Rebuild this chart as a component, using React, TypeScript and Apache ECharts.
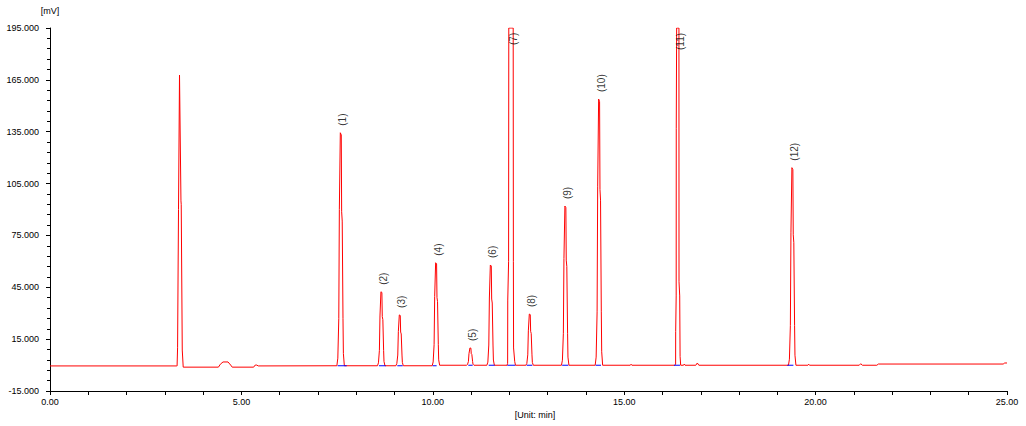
import React, { useEffect, useRef } from "react";
import * as echarts from "echarts";

// ---- chromatogram trace (time in min, signal in mV) ----
const startBase: [number, number][] = [[0, -0.5], [3.3, -0.5]];
const solventPeak: [number, number][] = [
  [3.32, -0.5], [3.333, 10], [3.357, 90], [3.383, 167.8], [3.399, 167.8],
  [3.421, 95], [3.428, 93], [3.455, 8.7], [3.48, -1.2],
];
const earlyDrift: [number, number][] = [
  [4.4, -1.2], [4.45, 0.5], [4.52, 1.8], [4.65, 1.8], [4.72, 0], [4.76, -1.2],
  [5.32, -1.2], [5.36, 0], [5.4, 0], [5.44, -0.5],
];
const peak1: [number, number][] = [
  [7.494, -0.4], [7.519, 4.0], [7.544, 26.9], [7.559, 90.0], [7.584, 134.4], [7.609, 133.1],
  [7.619, 88.7], [7.634, 83.3], [7.654, 26.9], [7.664, 6.7], [7.689, -0.4],
];
const peak2: [number, number][] = [
  [8.555, -0.4], [8.58, 1.3], [8.605, 8.5], [8.62, 28.4], [8.645, 42.4], [8.67, 42.0],
  [8.68, 28.0], [8.695, 26.3], [8.715, 8.5], [8.725, 2.1], [8.75, -0.4],
];
const peak3: [number, number][] = [
  [9.035, -0.4], [9.06, 0.9], [9.085, 5.8], [9.1, 19.4], [9.125, 29.0], [9.15, 28.7],
  [9.16, 19.1], [9.175, 18.0], [9.195, 5.8], [9.205, 1.5], [9.23, -0.4],
];
const peak4: [number, number][] = [
  [9.984, -0.4], [10.009, 1.8], [10.034, 11.8], [10.049, 39.7], [10.074, 59.2], [10.099, 58.6],
  [10.109, 39.1], [10.124, 36.7], [10.144, 11.8], [10.154, 3.0], [10.179, -0.1],
];
const peak5: [number, number][] = [
  [10.88, -0.1], [10.905, 0.3], [10.93, 2.0], [10.945, 6.6], [10.97, 9.9], [10.995, 9.8],
  [11.005, 6.5], [11.02, 6.1], [11.04, 2.0], [11.05, 0.5], [11.075, -0.1],
];
const peak6: [number, number][] = [
  [11.413, -0.1], [11.438, 1.7], [11.463, 11.6], [11.478, 38.8], [11.503, 57.9], [11.528, 57.3],
  [11.538, 38.2], [11.553, 35.9], [11.573, 11.6], [11.583, 2.9], [11.608, -0.1],
];
const peak7: [number, number][] = [
  [11.94, -0.1], [11.955, 1], [11.958, 37.6], [11.98, 60], [11.985, 195], [12.1, 195],
  [12.105, 60], [12.11, 9.9], [12.14, 2], [12.16, -0.1],
];
const peak8: [number, number][] = [
  [12.431, -0.1], [12.456, 0.9], [12.481, 5.9], [12.496, 19.8], [12.521, 29.5], [12.546, 29.2],
  [12.556, 19.5], [12.571, 18.3], [12.591, 5.9], [12.601, 1.5], [12.626, -0.1],
];
const peak9: [number, number][] = [
  [13.361, -0.1], [13.386, 2.8], [13.411, 18.4], [13.426, 61.6], [13.451, 92.0], [13.476, 91.1],
  [13.486, 60.7], [13.501, 57.0], [13.521, 18.4], [13.531, 4.6], [13.556, -0.1],
];
const peak10: [number, number][] = [
  [14.242, -0.1], [14.267, 4.6], [14.292, 30.8], [14.307, 103.1], [14.332, 153.9], [14.357, 152.4],
  [14.367, 101.6], [14.382, 95.4], [14.402, 30.8], [14.412, 7.7], [14.437, -0.1],
];
const midBumps: [number, number][] = [[15.16, -0.1], [15.18, 0.5], [15.2, -0.1]];
const peak11: [number, number][] = [
  [16.32, -0.1], [16.343, 0.5], [16.345, 19.3], [16.358, 40], [16.36, 137], [16.37, 195],
  [16.43, 195], [16.432, 48.2], [16.45, 40], [16.46, 5], [16.475, -0.1],
];
const lateBumps: [number, number][] = [
  [16.55, -0.1], [16.57, 0.6], [16.59, -0.1], [16.87, -0.1], [16.91, 1.2], [16.95, -0.1],
];
const peak12: [number, number][] = [
  [19.291, -0.1], [19.316, 3.4], [19.341, 22.8], [19.356, 76.5], [19.381, 114.2], [19.406, 113.1],
  [19.416, 75.4], [19.431, 70.8], [19.451, 22.8], [19.461, 5.7], [19.486, -0.1],
];
const tail: [number, number][] = [
  [19.8, -0.1], [19.82, 0.5], [19.84, -0.1], [21.14, -0.1], [21.18, 0.8], [21.22, -0.1],
  [21.6, -0.1], [21.64, 0.6], [24.9, 0.6], [24.94, 1.2], [25, 1.2],
];

// ---- integration baselines (blue) ----
const blueStarts = [7.515, 8.594, 9.073, 9.997, 10.928, 11.46, 11.947, 12.453, 13.38, 14.255, 16.3, 19.26];
const blueEnds = [7.75, 8.77, 9.213, 10.1, 11.04, 11.617, 12.155, 12.6, 13.54, 14.394, 16.457, 19.42];
const blueLevels = [-0.4, -0.4, -0.4, -0.4, -0.1, -0.1, -0.1, -0.1, -0.1, -0.1, -0.1, -0.1];

// ---- peak labels ----
const peakNames = ["(1)", "(2)", "(3)", "(4)", "(5)", "(6)", "(7)", "(8)", "(9)", "(10)", "(11)", "(12)"];
const peakTimes = [7.594, 8.655, 9.135, 10.084, 10.98, 11.513, 12.043, 12.531, 13.461, 14.342, 16.413, 19.391];
const peakHeights = [134.4, 42.4, 29.0, 59.2, 9.9, 57.9, 195, 29.5, 92.0, 153.9, 195, 114.2];

// ---- axes ----
const xMin = 0, xMax = 25, xStep = 5;
const yMin = -15, yMax = 195, yStep = 30;

export default function App() {
  const ref = useRef<HTMLDivElement>(null);
  useEffect(() => {
    document.body.style.margin = "0";
    if (!ref.current) return;
    const chart = echarts.init(ref.current, null, { renderer: "svg" });
    const trace = [
      ...startBase, ...solventPeak, ...earlyDrift, ...peak1, ...peak2, ...peak3, ...peak4,
      ...peak5, ...peak6, ...peak7, ...peak8, ...peak9, ...peak10, ...midBumps, ...peak11,
      ...lateBumps, ...peak12, ...tail,
    ];
    const blue: any[] = [];
    blueStarts.forEach((s, i) => {
      blue.push([s, blueLevels[i]]);
      blue.push([blueEnds[i], blueLevels[i]]);
      blue.push([blueEnds[i] + 0.001, null]);
    });
    const insideTop: Record<string, number> = { "(7)": -17, "(11)": -22 };
    const labels = peakNames.map((n, i) => ({
      name: n,
      value: [peakTimes[i], peakHeights[i]],
      label: insideTop[n] !== undefined ? { distance: insideTop[n] } : undefined,
    }));
    const font = "'Liberation Sans', Arial, sans-serif";
    chart.setOption({
      animation: false,
      backgroundColor: "#ffffff",
      grid: { left: 50, right: 19, top: 28, bottom: 35, containLabel: false },
      xAxis: {
        type: "value",
        min: xMin,
        max: xMax,
        interval: xStep,
        name: "[Unit: min]",
        nameLocation: "middle",
        nameGap: 16,
        nameTextStyle: { color: "#000", fontSize: 9, fontFamily: font, padding: [0, 0, 0, 13] },
        axisLine: { show: true, onZero: false, lineStyle: { color: "#000", width: 1 } },
        axisTick: { show: true, length: 4, lineStyle: { color: "#000" } },
        minorTick: { show: true, splitNumber: 5, length: 4, lineStyle: { color: "#000" } },
        axisLabel: {
          color: "#000", fontSize: 9, fontFamily: font, margin: 6,
          formatter: (v: number) => v.toFixed(2),
        },
        splitLine: { show: false },
        minorSplitLine: { show: false },
      },
      yAxis: {
        type: "value",
        min: yMin,
        max: yMax,
        interval: yStep,
        name: "[mV]",
        nameLocation: "end",
        nameGap: 13,
        nameTextStyle: { color: "#000", fontSize: 9, fontFamily: font, align: "center" },
        axisLine: { show: true, onZero: false, lineStyle: { color: "#000", width: 1 } },
        axisTick: { show: true, length: 4, lineStyle: { color: "#000" } },
        minorTick: { show: true, splitNumber: 5, length: 3, lineStyle: { color: "#000" } },
        axisLabel: {
          color: "#000", fontSize: 9, fontFamily: font, margin: 11,
          formatter: (v: number) => v.toFixed(3),
        },
        splitLine: { show: false },
        minorSplitLine: { show: false },
      },
      series: [
        {
          type: "line",
          data: trace,
          showSymbol: false,
          symbol: "none",
          lineStyle: { color: "#ff0000", width: 1 },
          itemStyle: { color: "#ff0000" },
          clip: true,
          silent: true,
          z: 2,
        },
        {
          type: "line",
          data: blue,
          showSymbol: false,
          symbol: "none",
          connectNulls: false,
          lineStyle: { color: "#0000ff", width: 1 },
          silent: true,
          z: 3,
        },
        {
          type: "scatter",
          data: labels,
          symbolSize: 0,
          silent: true,
          z: 4,
          label: {
            show: true,
            position: "top",
            distance: 7,
            rotate: 90,
            align: "left",
            verticalAlign: "middle",
            offset: [0, 2],
            color: "#000",
            fontSize: 10,
            fontFamily: font,
            formatter: (p: any) => p.name,
          },
        },
      ],
    });
    return () => chart.dispose();
  }, []);
  return <div ref={ref} style={{ width: 1026, height: 426 }} />;
}
